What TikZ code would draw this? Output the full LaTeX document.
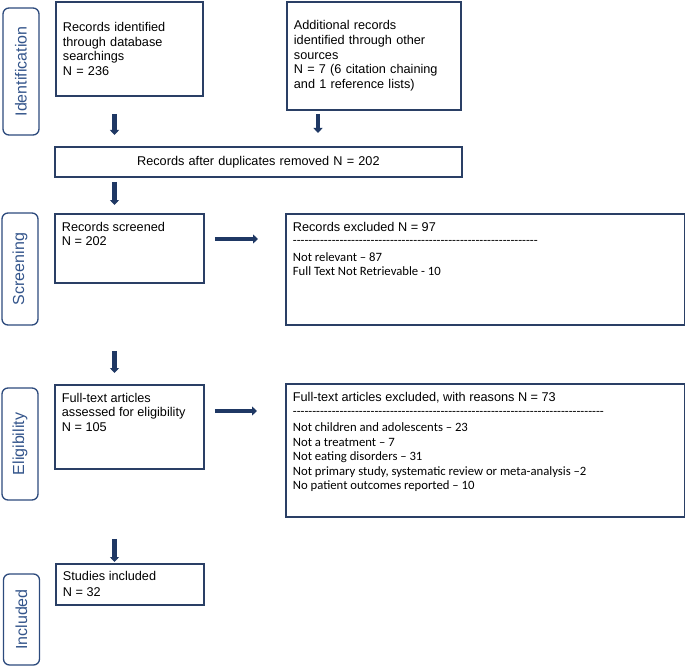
\documentclass[tikz,border=0pt]{standalone}
\usepackage{fontspec}
\setmainfont{Liberation Sans}
\newfontfamily\calib{Carlito}
\usepackage{xcolor}
\usetikzlibrary{arrows.meta,positioning}

\definecolor{boxline}{HTML}{2A3F65}
\definecolor{arrcol}{HTML}{1F3864}
\definecolor{labline}{HTML}{2C4A7C}
\definecolor{labtext}{HTML}{34558B}

\newcommand\dashrow[1]{\foreach \k in {1,...,#1}{-}}

\tikzset{
  box/.style={draw=boxline, line width=1.8pt, anchor=north west, inner xsep=7pt,
    inner ysep=0pt, font=\fontsize{12.7}{14.8}\selectfont, align=left},
  topbox/.style={box, inner ysep=8pt},
  phase/.style={draw=labline, line width=1.3pt, rounded corners=6pt, rotate=90,
    minimum height=36pt, inner sep=0pt, text=labtext,
    font=\fontsize{16}{18}\selectfont},
  arr/.style={draw=arrcol, line width=4.2pt, -{Triangle[length=5pt,width=9pt]}}
}

\begin{document}
\begin{tikzpicture}[x=1pt,y=-1pt]
\useasboundingbox (0,0) rectangle (685,666);

% phase labels on the left
\node[phase, minimum width=127pt] (lid) at (21,71.5) {Identification};
\node[phase, minimum width=112pt] (lsc) at (20,269) {Screening};
\node[phase, minimum width=112pt] (lel) at (20,444) {Eligibility};
\node[phase, minimum width=91pt] (lin) at (21.5,619.5) {Included};

% flow boxes
\node[box, minimum width=147pt, minimum height=94pt, text width=133pt] (db) at (55,1)
  {Records identified\\through database\\searchings\\N = 236};
\node[box, minimum width=174pt, minimum height=108pt, text width=160pt] (oth) at (286,1)
  {Additional records\\identified through other\\sources\\N = 7 (6 citation chaining\\and 1 reference lists)};
\node[box, minimum width=407pt, minimum height=30pt, text width=393pt, align=center] (dup) at (54,146)
  {Records after duplicates removed N = 202};
\node[topbox, minimum width=149pt, minimum height=69pt] (scr) at (54,213)
  {\parbox[t][53pt][t]{135pt}{Records screened\\[-0.3pt]N = 202}};
\node[topbox, minimum width=399pt, minimum height=111pt] (exa) at (285,213)
  {\parbox[t][95pt][t]{385pt}{Records excluded N = 97\\[-1.8pt]
   {\calib\dashrow{63}\\[2.2pt]
   Not relevant – 87\\[-0.3pt]
   Full Text Not Retrievable - 10}}};
\node[topbox, minimum width=149pt, minimum height=84pt] (full) at (54,384)
  {\parbox[t][68pt][t]{135pt}{Full-text articles\\assessed for eligibility\\N = 105}};
\node[topbox, minimum width=399pt, minimum height=133pt] (exb) at (285,383)
  {\parbox[t][117pt][t]{385pt}{Full-text articles excluded, with reasons N = 73\\[-0.3pt]
   {\calib\dashrow{80}\\[1.5pt]
   Not children and adolescents – 23\\[-0.3pt]
   Not a treatment – 7\\[-0.3pt]
   Not eating disorders – 31\\[-0.3pt]
   Not primary study, systematic review or meta-analysis –2\\[-0.3pt]
   No patient outcomes reported – 10}}};
\node[topbox, inner ysep=7pt, minimum width=148pt, minimum height=41pt] (inc) at (55,563)
  {\parbox[t][27pt][t]{134pt}{Studies included\\[1.7pt]N = 32}};

% arrows
\coordinate (colL) at (114.5,0);
\coordinate (colR) at (318,0);
\draw[arr, shorten <=17pt, shorten >=11pt] (db.south -| colL) -- (dup.north -| colL);
\draw[arr, shorten <=3pt, shorten >=13pt] (oth.south -| colR) -- (dup.north -| colR);
\draw[arr, shorten <=4pt, shorten >=8pt] (dup.south -| colL) -- (scr.north -| colL);
\draw[arr, shorten <=67pt, shorten >=11pt] (scr.south -| colL) -- (full.north -| colL);
\draw[arr, shorten <=69pt, shorten >=1pt] (full.south -| colL) -- (inc.north -| colL);
\draw[arr, shorten <=10pt, shorten >=27pt] ([yshift=-26pt]scr.north east) -- ([yshift=-26pt]scr.north east -| exa.west);
\draw[arr, shorten <=10pt, shorten >=28pt] ([yshift=-27pt]full.north east) -- ([yshift=-27pt]full.north east -| exb.west);
\end{tikzpicture}
\end{document}
